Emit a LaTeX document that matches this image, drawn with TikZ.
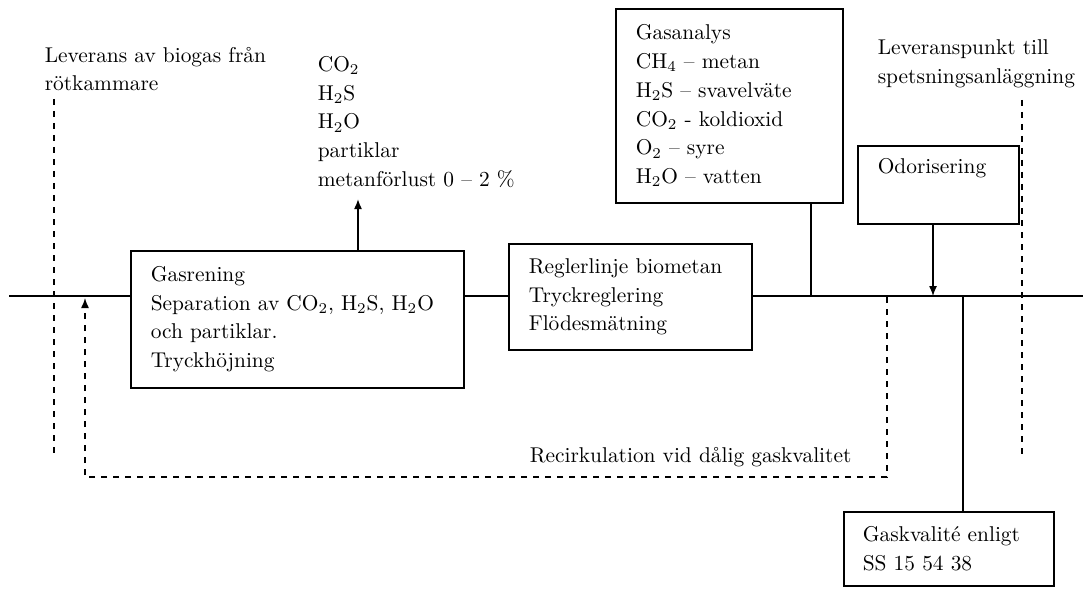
\documentclass[tikz,border=0pt]{standalone}
\usetikzlibrary{positioning,arrows.meta}
\newcommand{\sbs}[1]{\textsubscript{#1}}
\begin{document}
\begin{tikzpicture}[>={Latex[length=5pt,width=4pt]},x=.5pt,y=-.5pt,line width=.8pt,
	blk/.style={draw,rectangle,anchor=north west,align=left,inner xsep=10pt,inner ysep=0pt,font=\fontsize{10.7}{14.35}\selectfont},
	txt/.style={anchor=west,align=left,inner sep=0pt,font=\fontsize{10.7}{14.35}\selectfont},
	dsh/.style={dashed,line width=.7pt}]
	\useasboundingbox (0,0) rectangle (1090,588);
	% boxes
	\node[blk,text width=146.5pt,minimum height=68.5pt] (gas) at (130,250) {Gasrening\\Separation av CO\sbs{2}, H\sbs{2}S, H\sbs{2}O\\och partiklar.\\Tryckh\"ojning};
	\node[blk,text width=101.5pt,minimum height=53pt] (regl) at (508,243) {Reglerlinje biometan\\Tryckreglering\\Fl\"odesm\"atning};
	\node[blk,text width=93.5pt,minimum height=97pt] (ana) at (615,8) {Gasanalys\\CH\sbs{4} -- metan\\H\sbs{2}S -- svavelv\"ate\\CO\sbs{2} - koldioxid\\O\sbs{2} -- syre\\H\sbs{2}O -- vatten};
	\node[blk,text width=60.5pt,minimum height=39pt] (odor) at (857,145) {Odorisering\\ \strut};
	\node[blk,inner xsep=9.5pt,text width=86pt,minimum height=37pt] (kval) at (843,511) {Gaskvalit\'e enligt\\SS 15 54 38};
	% texts
	\node[txt] (lev) at (44,69) {Leverans av biogas fr\aa n\\r\"otkammare};
	\node[txt] (rest) at (317,122) {CO\sbs{2}\\H\sbs{2}S\\H\sbs{2}O\\partiklar\\metanf\"orlust 0 -- 2 \%};
	\node[txt] (levp) at (877,64) {Leveranspunkt till\\spetsningsanl\"aggning};
	\node[txt] (recl) at (529,457) {Recirkulation vid d\aa lig gaskvalitet};
	% main line
	\coordinate (in) at (9,296);
	\coordinate (out) at (1083,296);
	\draw (in)--(in-|gas.west);
	\draw (gas.east|-in)--(in-|regl.west);
	\draw (regl.east|-in)--(out);
	% branches
	\coordinate (t0) at (358,199);
	\coordinate (t1) at (811,296);
	\coordinate (t2) at (933,296);
	\coordinate (t3) at (963,296);
	\draw[->] (t0|-gas.north)--(t0);
	\draw[line width=.6pt] (t1)--(t1|-ana.south);
	\draw[->,line width=.6pt] (t2|-odor.south)--(t2);
	\draw[line width=.6pt] (t3)--(t3|-kval.north);
	% dashed
	\draw[dsh] (54,99)--(54,457);
	\draw[dsh] (1022,100)--(1022,457);
	\draw[dsh,->] (887,297)--(887,477)--(85,477)--(85,298);
\end{tikzpicture}
\end{document}
